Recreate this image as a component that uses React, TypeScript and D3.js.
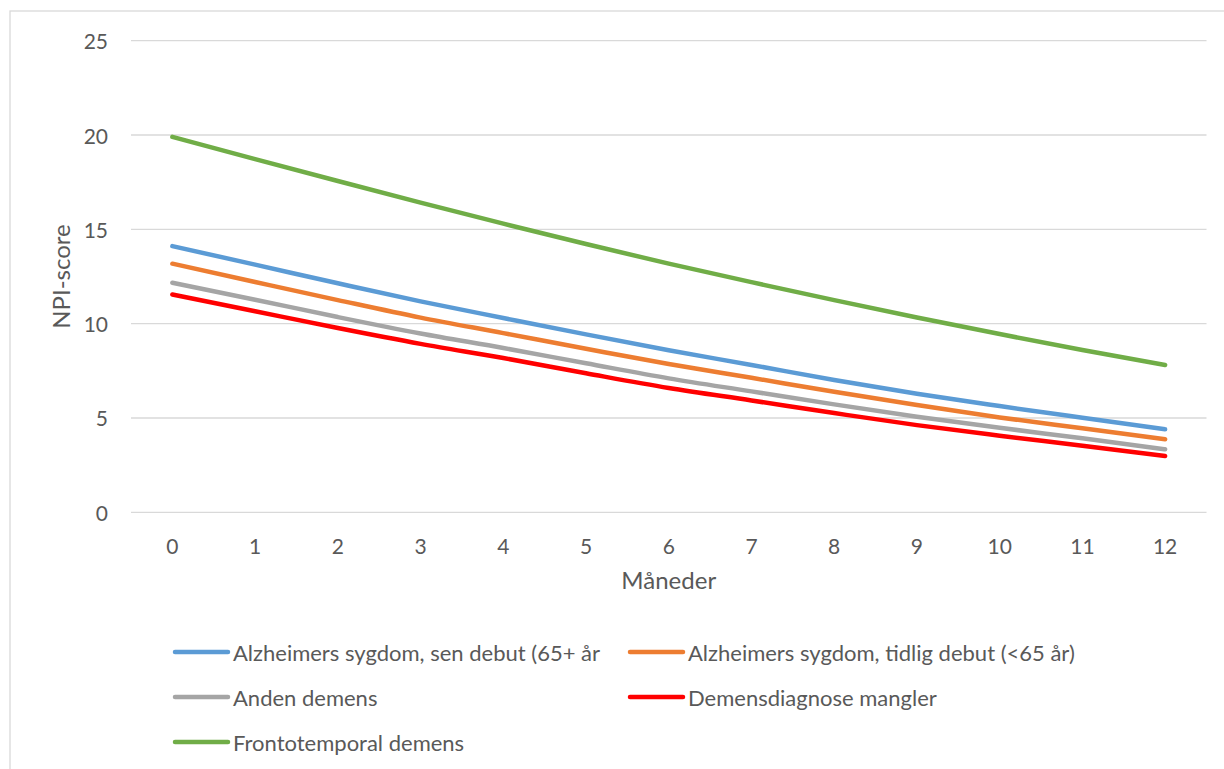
import React from "react";
import * as d3 from "d3";

const months = [0, 1, 2, 3, 4, 5, 6, 7, 8, 9, 10, 11, 12];
const yTicks = [0, 5, 10, 15, 20, 25];

const seriesNames = [
  "Alzheimers sygdom, sen debut (65+ år",
  "Alzheimers sygdom, tidlig debut (<65 år)",
  "Anden demens",
  "Demensdiagnose mangler",
  "Frontotemporal demens",
];

const alzSen = [14.11, 13.13, 12.14, 11.18, 10.3, 9.43, 8.59, 7.81, 7.01, 6.28, 5.63, 5.01, 4.4];
const alzTidlig = [13.18, 12.21, 11.25, 10.32, 9.5, 8.67, 7.86, 7.13, 6.39, 5.69, 5.03, 4.45, 3.87];
const anden = [12.17, 11.27, 10.35, 9.48, 8.71, 7.9, 7.1, 6.41, 5.72, 5.07, 4.48, 3.92, 3.34];
const mangler = [11.55, 10.66, 9.77, 8.93, 8.18, 7.37, 6.59, 5.93, 5.26, 4.62, 4.06, 3.53, 2.98];
const fronto = [19.9, 18.72, 17.56, 16.42, 15.3, 14.22, 13.18, 12.2, 11.25, 10.33, 9.45, 8.6, 7.81];

const seriesValues = [alzSen, alzTidlig, anden, mangler, fronto];
const seriesColors = ["#5B9BD5", "#ED7D31", "#A5A5A5", "#FF0000", "#70AD47"];

const FONT = "Lato, 'Open Sans', sans-serif";
const TEXT = "#595959";

export default function App() {
  const W = 1224;
  const H = 769;
  const x = d3.scalePoint<number>().domain(months).range([131, 1206.5]).padding(0.5);
  const y = d3.scaleLinear().domain([0, 25]).range([512.3, 40.7]);
  const line = d3
    .line<number>()
    .x((_, i) => x(months[i]) as number)
    .y((v) => y(v))
    .curve(d3.curveMonotoneX);

  const legendPos = [
    { lx: 175, ty: 652 },
    { lx: 630, ty: 652 },
    { lx: 175, ty: 697 },
    { lx: 630, ty: 697 },
    { lx: 175, ty: 742 },
  ];

  return (
    <div style={{ position: "absolute", left: 0, top: 0, width: W, height: H, background: "#fff" }}>
      <svg width={W} height={H} style={{ display: "block" }} fontFamily={FONT}>
        <rect x={0} y={0} width={W} height={H} fill="#fff" />
        <rect x={10} y={11} width={W + 20} height={H + 20} fill="none" stroke="#D9D9D9" strokeWidth={1.3} />
        {yTicks.map((t) => (
          <g key={t}>
            <line x1={131} x2={1206.5} y1={y(t)} y2={y(t)} stroke="#D9D9D9" strokeWidth={1.3} />
            <text x={108} y={y(t)} textAnchor="end" dominantBaseline="central" fontSize={21} fill={TEXT}>
              {t}
            </text>
          </g>
        ))}
        {months.map((m) => (
          <text key={m} x={x(m)} y={545} textAnchor="middle" dominantBaseline="central" fontSize={21} fill={TEXT}>
            {m}
          </text>
        ))}
        <text x={668.75} y={589} textAnchor="middle" fontSize={24} fill={TEXT}>
          Måneder
        </text>
        <text
          transform={`translate(70,276.5) rotate(-90)`}
          textAnchor="middle"
          fontSize={24}
          fill={TEXT}
        >
          NPI-score
        </text>
        {seriesValues.map((vals, i) => (
          <path
            key={i}
            d={line(vals) || ""}
            fill="none"
            stroke={seriesColors[i]}
            strokeWidth={4.5}
            strokeLinecap="round"
            strokeLinejoin="round"
          />
        ))}
        {seriesNames.map((name, i) => (
          <g key={name}>
            <line
              x1={legendPos[i].lx}
              x2={legendPos[i].lx + 53}
              y1={legendPos[i].ty}
              y2={legendPos[i].ty}
              stroke={seriesColors[i]}
              strokeWidth={4.5}
              strokeLinecap="round"
            />
            <text
              x={legendPos[i].lx + 58}
              y={legendPos[i].ty}
              dominantBaseline="central"
              fontSize={22}
              fill={TEXT}
            >
              {name}
            </text>
          </g>
        ))}
      </svg>
    </div>
  );
}
